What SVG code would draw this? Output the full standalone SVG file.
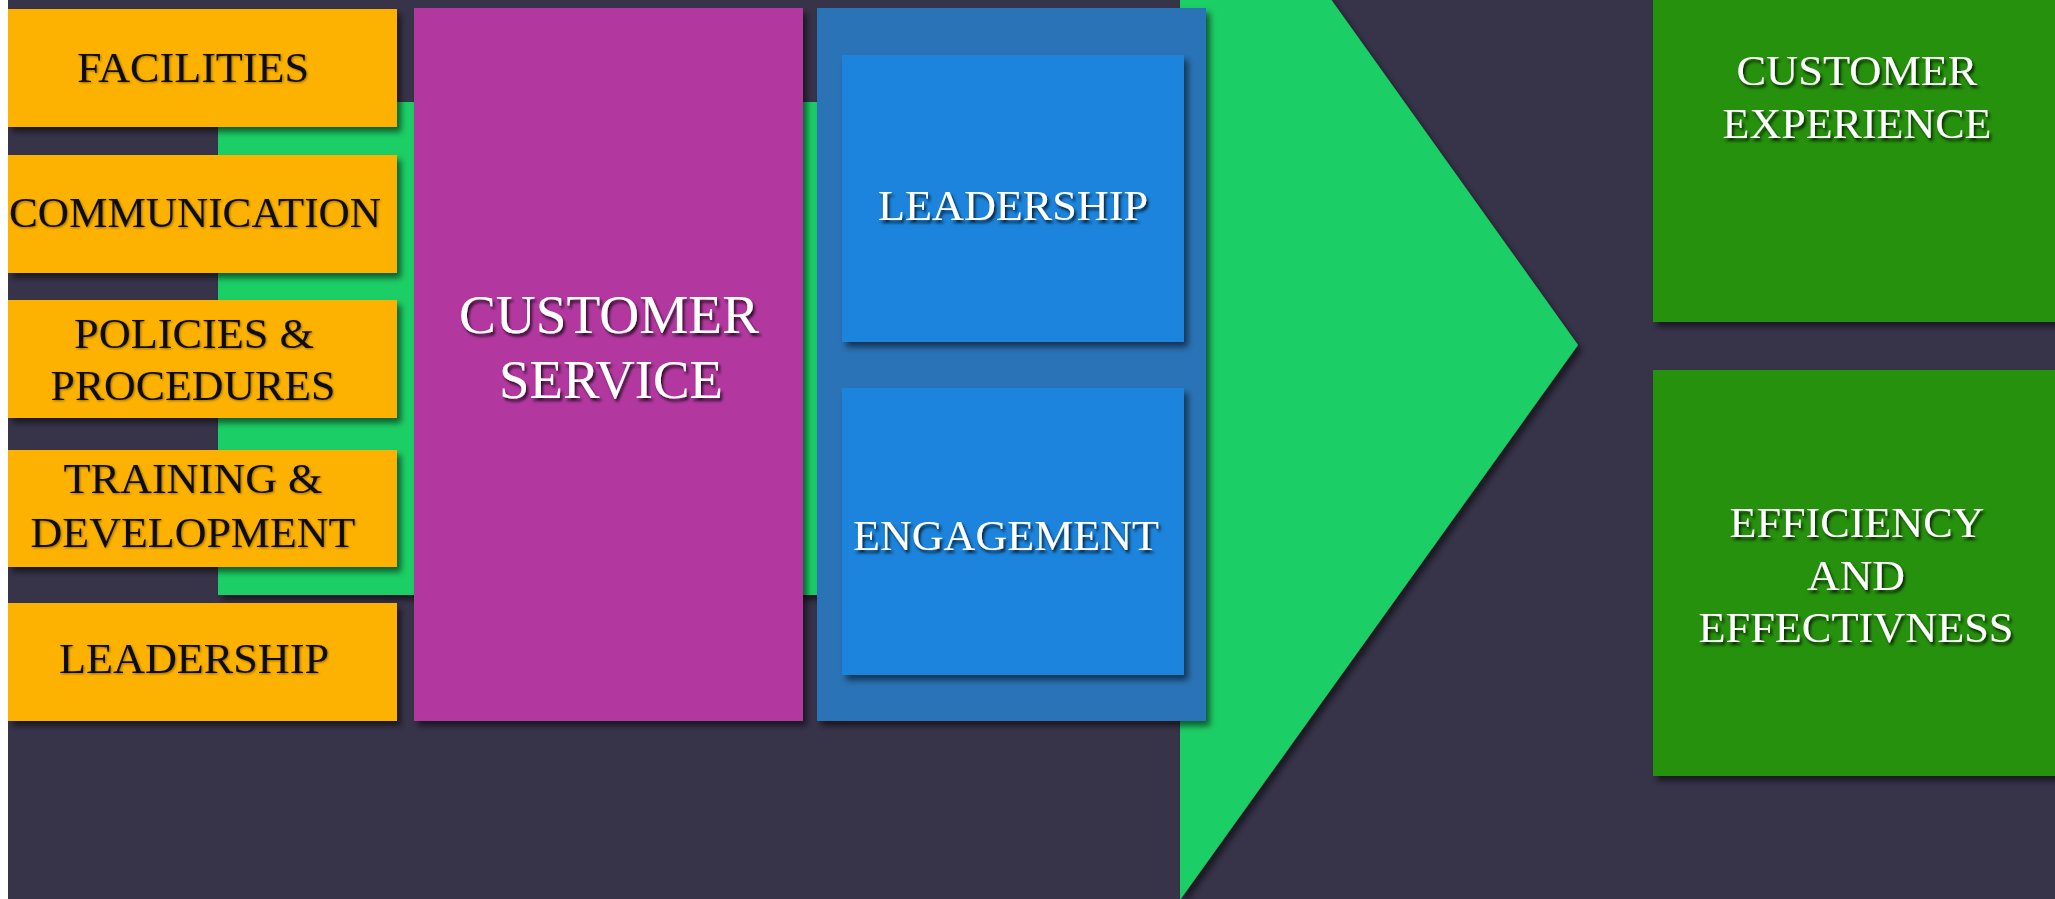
<svg xmlns="http://www.w3.org/2000/svg" width="2055" height="899" viewBox="0 0 2055 899">
<defs>
<filter id="sh" x="-10%" y="-10%" width="130%" height="130%">
<feDropShadow dx="4" dy="5" stdDeviation="3" flood-color="#000" flood-opacity="0.55"/>
</filter>
<filter id="tsh" x="-10%" y="-30%" width="130%" height="170%">
<feDropShadow dx="2" dy="3" stdDeviation="1.5" flood-color="#000" flood-opacity="0.75"/>
</filter>
<filter id="tshd" x="-10%" y="-30%" width="130%" height="170%">
<feDropShadow dx="1" dy="1" stdDeviation="0.8" flood-color="#000" flood-opacity="0.4"/>
</filter>
</defs>
<style>
.bg{fill:#37344A}
.orange{fill:#FDB100}
.mag{fill:#B2399F}
.blueo{fill:#2B73B6}
.bluei{fill:#1C84DC}
.dgreen{fill:#289110}
.arrow{fill:#1ECE66}
.tb{font-family:"Liberation Serif","Times New Roman",serif;font-size:42px;fill:#111;text-anchor:middle}
.tw{font-family:"Liberation Serif","Times New Roman",serif;font-size:42px;fill:#fff;text-anchor:middle}
.tbig{font-size:55px}
</style>
<rect class="bg" x="0" y="0" width="2055" height="899"/>
<g id="connectors">
<polygon class="arrow" filter="url(#sh)" points="218,102 1180,102 1180,-212 1578,345 1180,900 1180,595 218,595"/>
</g>
<g id="facilities">
<rect class="orange" filter="url(#sh)" x="8" y="9" width="389" height="118"/>
<text class="tb" filter="url(#tshd)" x="193" y="82" textLength="232" lengthAdjust="spacingAndGlyphs">FACILITIES</text>
</g>
<g id="communication">
<rect class="orange" filter="url(#sh)" x="8" y="155" width="389" height="118"/>
<text class="tb" filter="url(#tshd)" x="195" y="227" textLength="372" lengthAdjust="spacingAndGlyphs">COMMUNICATION</text>
</g>
<g id="policies">
<rect class="orange" filter="url(#sh)" x="8" y="300" width="389" height="118"/>
<text class="tb" filter="url(#tshd)" x="194" y="348" textLength="240" lengthAdjust="spacingAndGlyphs">POLICIES &amp;</text>
<text class="tb" filter="url(#tshd)" x="193" y="400" textLength="285" lengthAdjust="spacingAndGlyphs">PROCEDURES</text>
</g>
<g id="training">
<rect class="orange" filter="url(#sh)" x="8" y="450" width="389" height="117"/>
<text class="tb" filter="url(#tshd)" x="193" y="493" textLength="259" lengthAdjust="spacingAndGlyphs">TRAINING &amp;</text>
<text class="tb" filter="url(#tshd)" x="193" y="547" textLength="325" lengthAdjust="spacingAndGlyphs">DEVELOPMENT</text>
</g>
<g id="leadership-left">
<rect class="orange" filter="url(#sh)" x="8" y="603" width="389" height="118"/>
<text class="tb" filter="url(#tshd)" x="194" y="673" textLength="270" lengthAdjust="spacingAndGlyphs">LEADERSHIP</text>
</g>
<g id="customer-service">
<rect class="mag" filter="url(#sh)" x="414" y="8" width="389" height="713"/>
<text class="tw tbig" filter="url(#tsh)" x="609" y="333" textLength="300" lengthAdjust="spacingAndGlyphs">CUSTOMER</text>
<text class="tw tbig" filter="url(#tsh)" x="611" y="398" textLength="224" lengthAdjust="spacingAndGlyphs">SERVICE</text>
</g>
<g id="blue-panel">
<rect class="blueo" filter="url(#sh)" x="817" y="8" width="389" height="713"/>
</g>
<g id="leadership">
<rect class="bluei" filter="url(#sh)" x="842" y="55" width="342" height="287"/>
<text class="tw" filter="url(#tsh)" x="1013" y="220" textLength="270" lengthAdjust="spacingAndGlyphs">LEADERSHIP</text>
</g>
<g id="engagement">
<rect class="bluei" filter="url(#sh)" x="842" y="388" width="342" height="287"/>
<text class="tw" filter="url(#tsh)" x="1006" y="550" textLength="306" lengthAdjust="spacingAndGlyphs">ENGAGEMENT</text>
</g>
<g id="customer-experience">
<rect class="dgreen" filter="url(#sh)" x="1653" y="-10" width="410" height="332"/>
<text class="tw" filter="url(#tsh)" x="1857" y="85" textLength="241" lengthAdjust="spacingAndGlyphs">CUSTOMER</text>
<text class="tw" filter="url(#tsh)" x="1857" y="138" textLength="269" lengthAdjust="spacingAndGlyphs">EXPERIENCE</text>
</g>
<g id="efficiency">
<rect class="dgreen" filter="url(#sh)" x="1653" y="370" width="410" height="406"/>
<text class="tw" filter="url(#tsh)" x="1857" y="537" textLength="255" lengthAdjust="spacingAndGlyphs">EFFICIENCY</text>
<text class="tw" filter="url(#tsh)" x="1856" y="590" textLength="98" lengthAdjust="spacingAndGlyphs">AND</text>
<text class="tw" filter="url(#tsh)" x="1856" y="642" textLength="315" lengthAdjust="spacingAndGlyphs">EFFECTIVNESS</text>
</g>
<rect x="0" y="0" width="8" height="899" fill="#fff"/>
</svg>
